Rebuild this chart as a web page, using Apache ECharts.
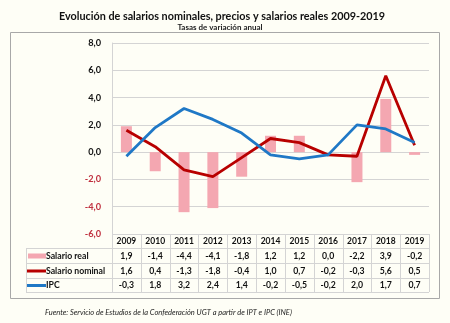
<!DOCTYPE html>
<html><head><meta charset="utf-8">
<script src="https://cdn.jsdelivr.net/npm/echarts@6/dist/echarts.min.js"></script>
<style>html,body{margin:0;padding:0;background:#FEFEF6;}#c{width:450px;height:323px;}</style>
</head><body><div id="c"></div>
<script>
const years = ['2009','2010','2011','2012','2013','2014','2015','2016','2017','2018','2019'];
const salarioReal = [1.9,-1.4,-4.4,-4.1,-1.8,1.2,1.2,0.0,-2.2,3.9,-0.2];
const salarioNominal = [1.6,0.4,-1.3,-1.8,-0.4,1.0,0.7,-0.2,-0.3,5.6,0.5];
const ipc = [-0.3,1.8,3.2,2.4,1.4,-0.2,-0.5,-0.2,2.0,1.7,0.7];
const seriesNames = ['Salario real','Salario nominal','IPC'];
const yMin = -6, yMax = 8, yStep = 2;

const FONT = 'Lato';
const colReal = '#F4A7B1', colNom = '#B80000', colIpc = '#1F78C6';
const fmt = v => v.toFixed(1).replace('.', ',');

const chart = echarts.init(document.getElementById('c'), null, {renderer:'canvas'});
chart.setOption({
  backgroundColor: '#FEFEF6',
  animation: false,
  title: [{
    text: 'Evolución de salarios nominales, precios y salarios reales 2009-2019',
    left: 217, top: 6, textAlign: 'center',
    textStyle: {fontFamily: FONT, fontWeight: 'bold', fontSize: 10.8, color: '#111'}
  },{
    text: 'Tasas de variación anual',
    left: 215, top: 18, textAlign: 'center',
    textStyle: {fontFamily: FONT, fontWeight: 'bold', fontSize: 8, color: '#222'}
  }],
  grid: {left: 112, right: 21, top: 43, bottom: 89},
  xAxis: {
    type: 'category', data: years,
    axisLine: {show: false}, axisTick: {show: false},
    axisLabel: {fontFamily: FONT, fontWeight: 'bold', fontSize: 8.5, color: '#111', margin: 3}
  },
  yAxis: {
    type: 'value', min: yMin, max: yMax, interval: yStep,
    axisLine: {show: true, lineStyle: {color: '#D4D4D4'}},
    axisTick: {show: false},
    splitLine: {lineStyle: {color: '#D4D4D4'}},
    axisLabel: {
      margin: 11, fontFamily: FONT, fontWeight: 'bold', fontSize: 9.2,
      formatter: v => fmt(v),
      color: v => (v < 0 ? '#C0303F' : '#111')
    }
  },
  series: [
    {name: seriesNames[0], type: 'bar', data: salarioReal, barWidth: 11,
     itemStyle: {color: colReal}},
    {name: seriesNames[1], type: 'line', data: salarioNominal, symbol: 'none',
     lineStyle: {color: colNom, width: 2.8}},
    {name: seriesNames[2], type: 'line', data: ipc, symbol: 'none',
     lineStyle: {color: colIpc, width: 2.8}}
  ]
});

// Data table drawn below the plot, aligned with the category axis
(function(){
  const x0 = chart.convertToPixel({xAxisIndex: 0}, 0);
  const x1 = chart.convertToPixel({xAxisIndex: 0}, 1);
  const cw = x1 - x0;
  const left = x0 - cw / 2;
  const right = left + cw * years.length;
  const top = chart.convertToPixel({yAxisIndex: 0}, yMin);
  const rowY = [top, top + 14, top + 29, top + 44, top + 58];
  const tableLeft = 26;
  const lc = '#D4D4D4';
  const g = [];
  g.push({type:'rect', shape:{x:10.5, y:32.5, width:429, height:266},
          style:{fill:null, stroke:'#A8A8A8', lineWidth:1}, z:0});
  for (let r = 1; r < rowY.length; r++) {
    g.push({type:'line', shape:{x1:tableLeft, y1:Math.round(rowY[r])+0.5, x2:right, y2:Math.round(rowY[r])+0.5}, style:{stroke:lc}});
  }
  for (let i = 0; i <= years.length; i++) {
    const x = Math.round(left + i * cw) + 0.5;
    g.push({type:'line', shape:{x1:x, y1:rowY[0], x2:x, y2:rowY[4]}, style:{stroke:lc}});
  }
  g.push({type:'line', shape:{x1:tableLeft+0.5, y1:rowY[1], x2:tableLeft+0.5, y2:rowY[4]}, style:{stroke:lc}});
  const rows = [salarioReal, salarioNominal, ipc];
  for (let r = 0; r < 3; r++) {
    const cy = (rowY[r+1] + rowY[r+2]) / 2 + 0.5;
    if (r === 0) {
      g.push({type:'rect', shape:{x:28, y:cy-2.5, width:18, height:5}, style:{fill:colReal}});
    } else {
      g.push({type:'line', shape:{x1:27, y1:cy, x2:46, y2:cy},
              style:{stroke: r === 1 ? colNom : colIpc, lineWidth:3}});
    }
    g.push({type:'text', style:{x:46, y:cy, text:seriesNames[r], textVerticalAlign:'middle',
            font:'bold 8.7px ' + FONT, fill:'#111'}});
    for (let i = 0; i < years.length; i++) {
      g.push({type:'text', style:{x:left + (i + 0.5) * cw, y:cy, text:fmt(rows[r][i]),
              textAlign:'center', textVerticalAlign:'middle', font:'bold 8.7px ' + FONT, fill:'#111'}});
    }
  }
  g.push({type:'text', style:{x:45, y:313, text:'Fuente: Servicio de Estudios de la Confederación UGT a partir de IPT e IPC (INE)',
          textVerticalAlign:'middle', font:'italic 7.5px ' + FONT, fill:'#222'}});
  chart.setOption({graphic: {elements: g}});
})();
</script>
</body></html>
